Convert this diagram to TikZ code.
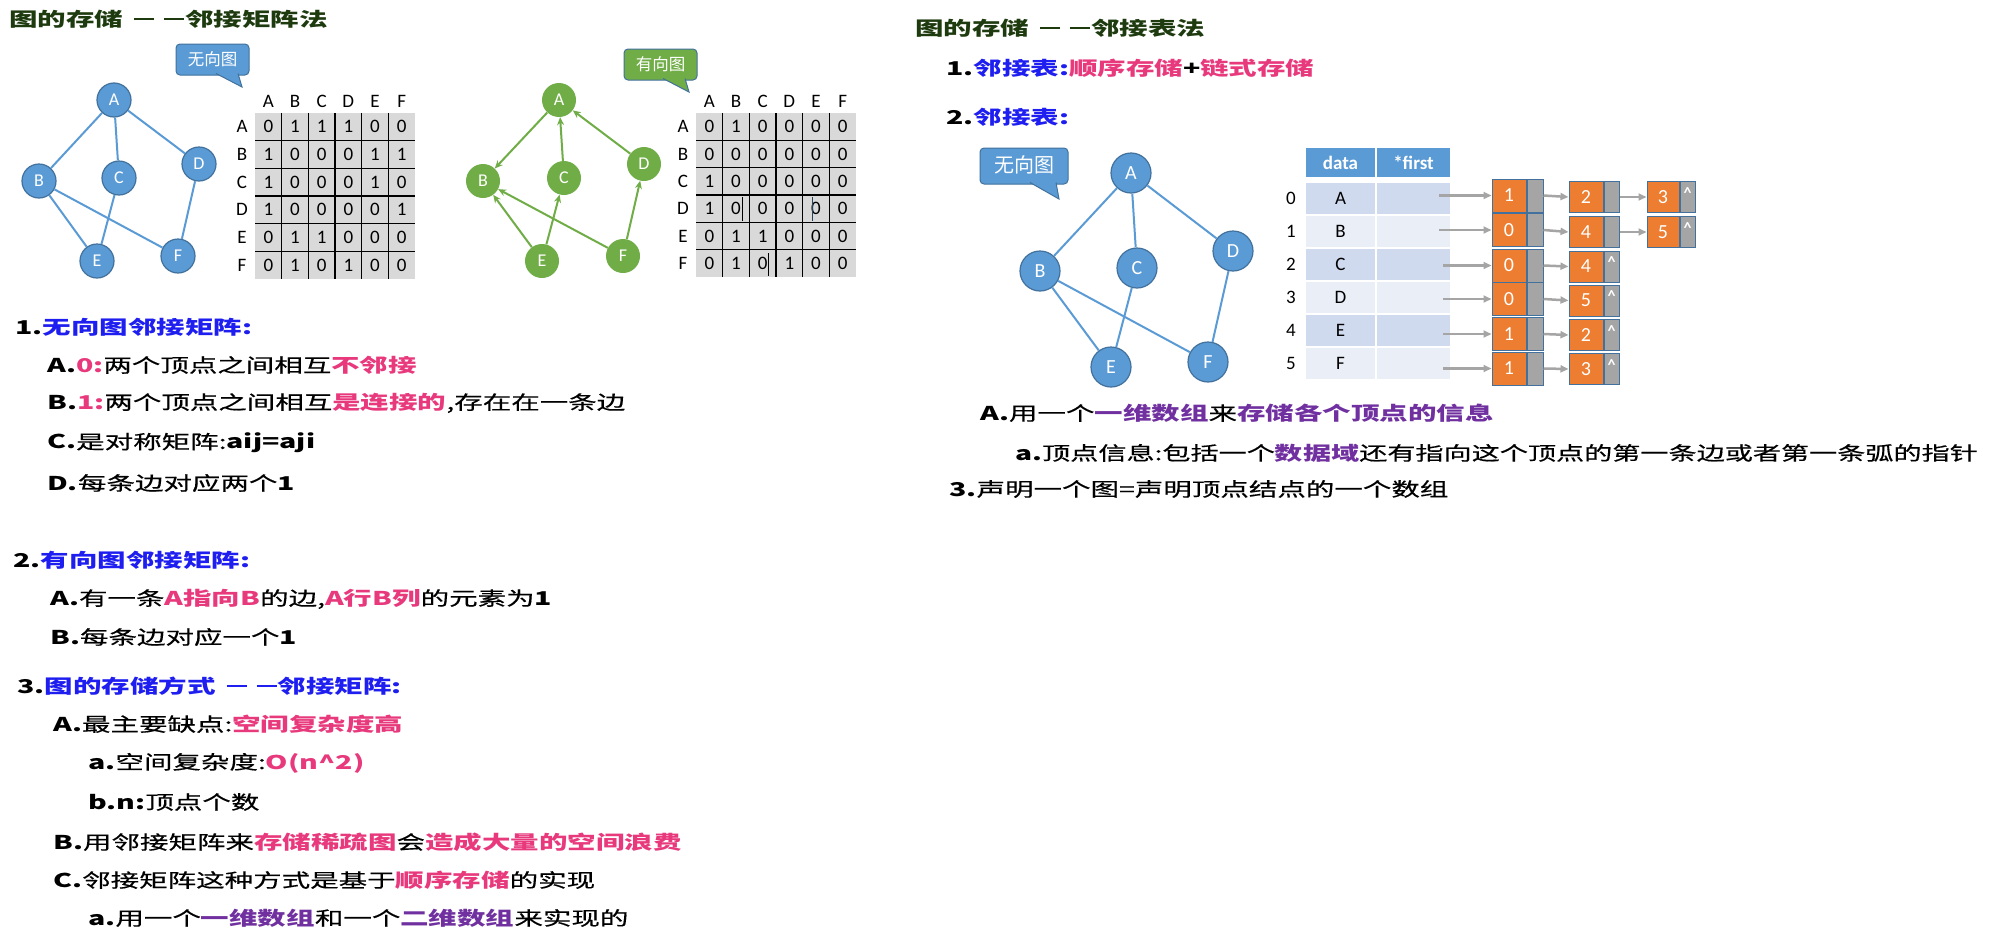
\documentclass[tikz,border=0pt]{standalone}
\usepackage{fontspec}
\usetikzlibrary{arrows.meta}
\setmainfont{Carlito}
\newfontfamily\cjk[FakeStretch=1.5, UprightFeatures={FakeBold=0.5}]{Noto Sans CJK SC}
\newfontfamily\cjkw[FakeStretch=1.48, UprightFeatures={FakeBold=0.5}]{Noto Sans CJK SC}
\newfontfamily\cjkn{Noto Sans CJK SC}
\newfontfamily\calfont{Carlito}

\definecolor{nodeblue}{HTML}{5B9BD5}
\definecolor{edgeblue}{HTML}{41719C}
\definecolor{nodegreen}{HTML}{70AD47}
\definecolor{cellgray}{HTML}{D9D9D9}
\definecolor{rowdark}{HTML}{CFDAEE}
\definecolor{rowlight}{HTML}{E9EEF7}
\definecolor{listorange}{HTML}{ED7D31}
\definecolor{listgray}{HTML}{A5A5A5}
\definecolor{headblue}{HTML}{1E1EF0}
\definecolor{hotpink}{HTML}{E8397D}
\definecolor{deeppurple}{HTML}{7030A0}
\definecolor{titlegreen}{HTML}{1E3B0F}

\newcommand\hb[1]{\textcolor{headblue}{\bfseries #1}}
\newcommand\hp[1]{\textcolor{hotpink}{\bfseries #1}}
\newcommand\hv[1]{\textcolor{deeppurple}{\bfseries #1}}
% the short double dash used in the headings
\newcommand\ddash{\hspace{11pt}\rule[6pt]{20pt}{2pt}\hspace{10pt}\rule[6pt]{20pt}{2pt}\hspace{1pt}}

\begin{document}
\begin{tikzpicture}[x=1pt,y=-1pt,
  tline/.style={anchor=west, inner sep=0pt, font=\cjk\fontsize{19}{23}\selectfont, text=black},
  ttitle/.style={anchor=west, inner sep=0pt, font=\cjk\bfseries\fontsize{19}{23}\selectfont, text=titlegreen},
  mval/.style={inner sep=0pt, font=\calfont\fontsize{19}{20}\selectfont},
  gnb/.style={circle, fill=nodeblue, draw=edgeblue, line width=1.2pt, minimum size=34pt, inner sep=0pt, text=white, font=\calfont\fontsize{18}{20}\selectfont},
  gng/.style={circle, fill=nodegreen, minimum size=34pt, inner sep=0pt, text=white, font=\calfont\fontsize{18}{20}\selectfont},
  gnc/.style={gnb, minimum size=40pt, font=\calfont\fontsize{20}{22}\selectfont},
  bedge/.style={draw=nodeblue, line width=2pt},
  gedge/.style={draw=nodegreen, line width=2pt, -{Stealth[length=8pt,width=7pt]}},
  callbox/.style={draw=edgeblue, line width=1pt},
  calltext/.style={text=white, inner sep=0pt, font=\cjkn\fontsize{16.5}{18}\selectfont},
  gridln/.style={draw=black, line width=1.2pt},
  thead/.style={rectangle, fill=nodeblue, draw=white, line width=1.5pt, minimum height=31pt, inner sep=0pt, text=white, font=\calfont\bfseries\fontsize{19}{20}\selectfont},
  tcell/.style={rectangle, draw=white, line width=1.5pt, minimum height=33pt, inner sep=0pt, font=\calfont\fontsize{19}{20}\selectfont},
  lval/.style={rectangle, fill=listorange, draw=edgeblue, line width=1pt, minimum width=34pt, inner sep=0pt, text=white, font=\calfont\fontsize{20}{22}\selectfont},
  lptr/.style={rectangle, fill=listgray, draw=edgeblue, line width=1pt, minimum width=16pt, inner sep=0pt},
  caret/.style={text=white, inner sep=0pt, font=\calfont\bfseries\fontsize{16}{16}\selectfont},
  larrow/.style={draw=listgray, line width=2.5pt, -{Triangle[length=8pt,width=7pt]}}
]
\fill[white] (0,0) rectangle (1992,945);
\path[use as bounding box] (0,0) rectangle (1992,945);

%% ---------------- left half: adjacency matrix ----------------
\node[ttitle] (title1) at (9,19) {图的存储\ddash 邻接矩阵法};

% undirected graph
\node[gnb] (ua) at (114,100) {A};
\node[gnb] (ub) at (39,181) {B};
\node[gnb] (uc) at (119,178) {C};
\node[gnb] (ud) at (199,164) {D};
\node[gnb] (ue) at (97,261) {E};
\node[gnb] (uf) at (178,256) {F};
\foreach \s/\t in {ua/ub, ua/uc, ua/ud, ub/ue, ub/uf, uc/ue, ud/uf}
  \draw[bedge] (\s) -- (\t);

% callout "无向图"
\filldraw[callbox, fill=nodeblue, rounded corners=4pt] (176,44) rectangle (249,75);
\filldraw[callbox, fill=nodeblue] (216,73.5) -- (242,87) -- (238,73.5);
\node[calltext] (cu1) at (212.5,59.5) {无向图};

% matrix of the undirected graph
\fill[cellgray] (255,113) rectangle (415,279);
\foreach \k in {1,...,5} {
  \draw[gridln] ({255+\k*26.667},113) -- ({255+\k*26.667},279);
  \draw[gridln] (255,{113+\k*27.667}) -- (415,{113+\k*27.667});
}
\foreach \L [count=\i from 0] in {A,B,C,D,E,F} {
  \node[mval] (mac-\L) at ({255+(\i+0.5)*26.667},101) {\L};
  \node[mval] (mar-\L) at (242,{113+(\i+0.5)*27.667}) {\L};
}
\foreach \rowvals [count=\i from 0] in {{0,1,1,1,0,0},{1,0,0,0,1,1},{1,0,0,0,1,0},{1,0,0,0,0,1},{0,1,1,0,0,0},{0,1,0,1,0,0}} {
  \foreach \v [count=\j from 0] in \rowvals {
    \node[mval] (ma-\i-\j) at ({255+(\j+0.5)*26.667},{113+(\i+0.5)*27.667}) {\v};
  }
}

% directed graph
\node[gng] (da) at (559,100) {A};
\node[gng] (db) at (483,181) {B};
\node[gng] (dc) at (564,178) {C};
\node[gng] (dd) at (644,164) {D};
\node[gng] (de) at (542,261) {E};
\node[gng] (df) at (623,256) {F};
\foreach \s/\t in {da/db, dc/da, dd/da, de/db, de/dc, df/db, df/dd}
  \draw[gedge] (\s) -- (\t);

% callout "有向图"
\filldraw[callbox, fill=nodegreen, rounded corners=4pt] (624,49) rectangle (697,80);
\filldraw[callbox, fill=nodegreen] (663,78.5) -- (689,92) -- (685,78.5);
\node[calltext] (cu2) at (660.5,64.5) {有向图};

% matrix of the directed graph
\fill[cellgray] (696,113) rectangle (856,277);
\foreach \k in {1,...,5} {
  \draw[gridln] ({696+\k*26.667},113) -- ({696+\k*26.667},277);
  \draw[gridln] (696,{113+\k*27.333}) -- (856,{113+\k*27.333});
}
\foreach \L [count=\i from 0] in {A,B,C,D,E,F} {
  \node[mval] (mbc-\L) at ({696+(\i+0.5)*26.667},101) {\L};
  \node[mval] (mbr-\L) at (683,{113+(\i+0.5)*27.333}) {\L};
}
\foreach \rowvals [count=\i from 0] in {{0,1,0,0,0,0},{0,0,0,0,0,0},{1,0,0,0,0,0},{1,0,0,0,0,0},{0,1,1,0,0,0},{0,1,0,1,0,0}} {
  \foreach \v [count=\j from 0] in \rowvals {
    \node[mval] (mb-\i-\j) at ({696+(\j+0.5)*26.667},{113+(\i+0.5)*27.333}) {\v};
  }
}
% text cursor marks left in three cells
\draw[black, line width=1pt] (742,197) -- (742,221);
\draw[edgeblue!60!black, line width=1pt] (812,197) -- (812,221);
\draw[black, line width=1pt] (768,253) -- (768,276);

% notes on the adjacency matrix
\node[tline] (l1) at (15,327) {\textbf{1.}\hb{无向图邻接矩阵:}};
\node[tline] (l2) at (47,365) {\textbf{A.}\hp{0:}两个顶点之间相互\hp{不邻接}};
\node[tline] (l3) at (47,403) {\textbf{B.}\hp{1:}两个顶点之间相互\hp{是连接的},存在在一条边};
\node[tline] (l4) at (47,443) {\textbf{C.}是对称矩阵:\textbf{aij=aji}};
\node[tline] (l5) at (47,483) {\textbf{D.}每条边对应两个\textbf{1}};
\node[tline] (l6) at (13,560) {\textbf{2.}\hb{有向图邻接矩阵:}};
\node[tline] (l7) at (50,599) {\textbf{A.}有一条\hp{A指向B}的边,\hp{A行B列}的元素为\textbf{1}};
\node[tline] (l8) at (50,637) {\textbf{B.}每条边对应一个\textbf{1}};
\node[tline] (l9) at (17,686) {\textbf{3.}\hb{图的存储方式\ddash 邻接矩阵:}};
\node[tline] (l10) at (53,724) {\textbf{A.}最主要缺点:\hp{空间复杂度高}};
\node[tline] (l11) at (88,763) {\textbf{a.}空间复杂度:\hp{O(n\textasciicircum2)}};
\node[tline] (l12) at (88,802) {\textbf{b.n:}顶点个数};
\node[tline] (l13) at (53,842) {\textbf{B.}用邻接矩阵来\hp{存储稀疏图}会\hp{造成大量的空间浪费}};
\node[tline] (l14) at (53,880) {\textbf{C.}邻接矩阵这种方式是基于\hp{顺序存储}的实现};
\node[tline] (l15) at (88,918) {\textbf{a.}用一个\hv{一维数组}和一个\hv{二维数组}来实现的};

%% ---------------- right half: adjacency list ----------------
\node[ttitle] (title2) at (915,28) {图的存储\ddash 邻接表法};
\node[tline] (r1) at (946,68) {\textbf{1.}\hb{邻接表:}\hp{顺序存储}\textbf{+}\hp{链式存储}};
\node[tline] (r2) at (946,117) {\textbf{2.}\hb{邻接表:}};

% graph
\node[gnc] (ga) at (1131,173) {A};
\node[gnc] (gb) at (1040,271) {B};
\node[gnc] (gc) at (1137,268) {C};
\node[gnc] (gd) at (1233,251) {D};
\node[gnc] (ge) at (1111,367) {E};
\node[gnc] (gf) at (1208,362) {F};
\foreach \s/\t in {ga/gb, ga/gc, ga/gd, gb/ge, gb/gf, gc/ge, gd/gf}
  \draw[bedge] (\s) -- (\t);

% callout "无向图"
\filldraw[callbox, fill=nodeblue, rounded corners=4pt] (980,148) rectangle (1068,184);
\filldraw[callbox, fill=nodeblue] (1030,182.5) -- (1059,199) -- (1056,182.5);
\node[calltext, font=\cjkn\fontsize{20}{22}\selectfont] (cu3) at (1024,165) {无向图};

% vertex table
\node[thead, minimum width=71pt] (hdata) at (1340.5,162.5) {data};
\node[thead, minimum width=75pt] (hfirst) at (1413.5,162.5) {*first};
\foreach \L/\shade [count=\i from 0] in {A/rowdark, B/rowlight, C/rowdark, D/rowlight, E/rowdark, F/rowlight} {
  \node[mval] (idx-\i) at (1291,{198.5+33*\i}) {\i};
  \node[tcell, fill=\shade, minimum width=71pt] (vd-\i) at (1340.5,{198.5+33*\i}) {\L};
  \node[tcell, fill=\shade, minimum width=75pt] (vf-\i) at (1413.5,{198.5+33*\i}) {};
}

% edge lists
\foreach \v/\yy/\xs [count=\i from 0] in {1/195.5/1439, 0/230/1439, 0/265.5/1443, 0/299/1443, 1/334/1443, 1/368.5/1443} {
  \node[lval, minimum height=33pt] (o1-\i) at (1509,\yy) {\v};
  \node[lptr, minimum height=33pt, anchor=west] (p1-\i) at (o1-\i.east) {};
  \coordinate (s-\i) at (\xs,\yy);
  \draw[larrow] (s-\i) -- (o1-\i.west);
}
\foreach \v/\yy [count=\i from 0] in {2/197, 4/232, 4/266.5, 5/300.5, 2/335, 3/369} {
  \node[lval, minimum height=31pt] (o2-\i) at (1586,\yy) {\v};
  \node[lptr, minimum height=31pt, minimum width=15pt, anchor=west] (p2-\i) at (o2-\i.east) {};
  \draw[larrow] (p1-\i.east) -- (o2-\i.west);
}
\foreach \i in {2,...,5}
  \node[caret, yshift=4pt] (c2-\i) at (p2-\i.center) {\textasciicircum};
\foreach \v/\yy [count=\i from 0] in {3/197, 5/232} {
  \node[lval, minimum height=31pt, minimum width=32pt] (o3-\i) at (1663,\yy) {\v};
  \node[lptr, minimum height=31pt, minimum width=15pt, anchor=west] (p3-\i) at (o3-\i.east) {};
  \node[caret, yshift=4pt] (c3-\i) at (p3-\i.center) {\textasciicircum};
  \draw[larrow] (p2-\i.east) -- (o3-\i.west);
}

% notes on the adjacency list
\node[tline] (r3) at (980,413) {\textbf{A.}用一个\hv{一维数组}来\hv{存储各个顶点的信息}};
\node[tline, font=\cjkw\fontsize{19}{23}\selectfont] (r4) at (1015,453) {\textbf{a.}顶点信息:包括一个\hv{数据域}还有指向这个顶点的第一条边或者第一条弧的指针};
\node[tline] (r5) at (949,489) {\textbf{3.}声明一个图=声明顶点结点的一个数组};
\end{tikzpicture}
\end{document}
